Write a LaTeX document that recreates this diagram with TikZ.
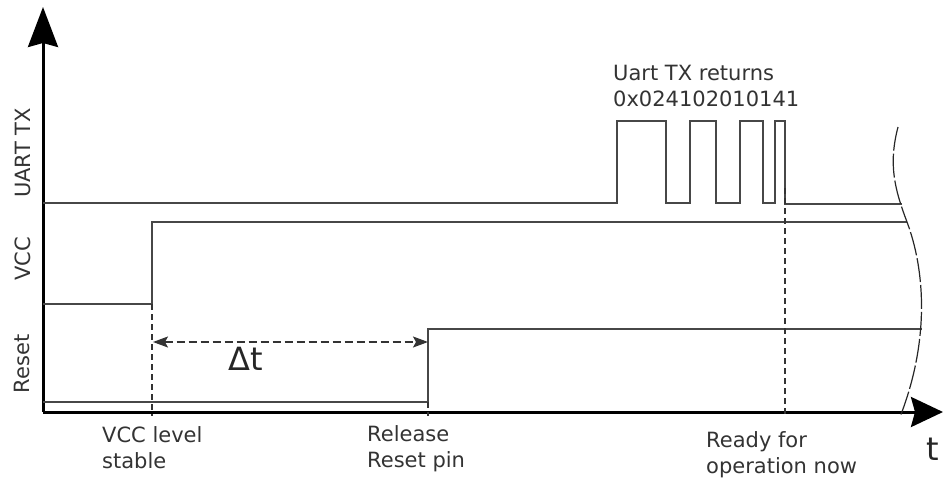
\documentclass[tikz,border=0pt]{standalone}
\usepackage{fontspec}
\setmainfont{DejaVu Sans}
\usetikzlibrary{arrows.meta}

\begin{document}
\begin{tikzpicture}[
        x=1pt, y=-1pt,
        axis/.style={draw=black, line width=3pt},
        signal/.style={draw=black!72, line width=1.6pt, line join=miter},
        marker/.style={draw=black!80, line width=1.4pt, dash pattern=on 6pt off 4pt},
        cutline/.style={draw=black!85, line width=1.2pt, dash pattern=on 24pt off 3pt},
        caption/.style={font=\fontsize{21}{26}\selectfont, text=black!80, align=left, anchor=north west, inner sep=0pt},
        axislabel/.style={font=\fontsize{21}{24}\selectfont, text=black!80, rotate=90, inner sep=0pt},
        biglabel/.style={font=\fontsize{32}{36}\selectfont, text=black!85, inner sep=0pt}
      ]
      \useasboundingbox (0,0) rectangle (943,477);
      % axes
      \coordinate (origin) at (43,412);
      \coordinate (ytip)   at (43,7);
      \coordinate (xtip)   at (943,412);
      \draw[axis, -{Stealth[length=40pt, width=30pt, inset=4pt]}] (origin) -- (ytip);
      \draw[axis, -{Stealth[length=32pt, width=30pt, inset=4pt]}] (origin) -- (xtip);
      \node[biglabel] (tlabel) at (933,449) {t};
      % signal names
      \node[axislabel] (uartname)  at (23,153) {UART TX};
      \node[axislabel] (vccname)   at (23,259) {VCC};
      \node[axislabel] (resetname) at (22,364) {Reset};
      % UART TX
      \draw[signal] (43,203) -- (617,203) -- (617,121) -- (666,121) -- (666,203)
        -- (690,203) -- (690,121) -- (716,121) -- (716,203)
        -- (740,203) -- (740,121) -- (763,121) -- (763,203)
        -- (775,203) -- (775,121) -- (785,121) -- (785,204) -- (902,204);
      % VCC
      \draw[signal] (43,304) -- (152,304) -- (152,222) -- (907,222);
      % Reset
      \draw[signal] (43,402) -- (428,402) -- (428,329) -- (922,329);
      % event markers
      \coordinate (vccok)   at (152,304);
      \coordinate (release) at (428,402);
      \coordinate (ready)   at (785,188);
      \draw[marker] (vccok) -- (152,416);
      \draw[marker] (release) -- (428,416);
      \draw[marker] (ready) -- (785,416);
      \draw[marker, dash pattern=on 8pt off 4pt,
            {Stealth[length=15pt, width=11pt, inset=3pt]}-{Stealth[length=15pt, width=11pt, inset=3pt]}]
        (153,342) -- (428,342);
      \node[biglabel] (delta) at (246,359) {Δt};
      % break in time axis
      \draw[cutline] (898,127) .. controls (888,165) and (895,190) .. (907,222)
        .. controls (925,270) and (930,340) .. (900,417);
      % captions
      \node[caption] (uarttext)  at (613,65)  {Uart TX returns\\0x024102010141};
      \node[caption] (vcctext)   at (102,426) {VCC level\\stable};
      \node[caption] (resettext) at (367,425) {Release\\Reset pin};
      \node[caption] (readytext) at (706,431) {Ready for\\operation now};
    \end{tikzpicture}
\end{document}
